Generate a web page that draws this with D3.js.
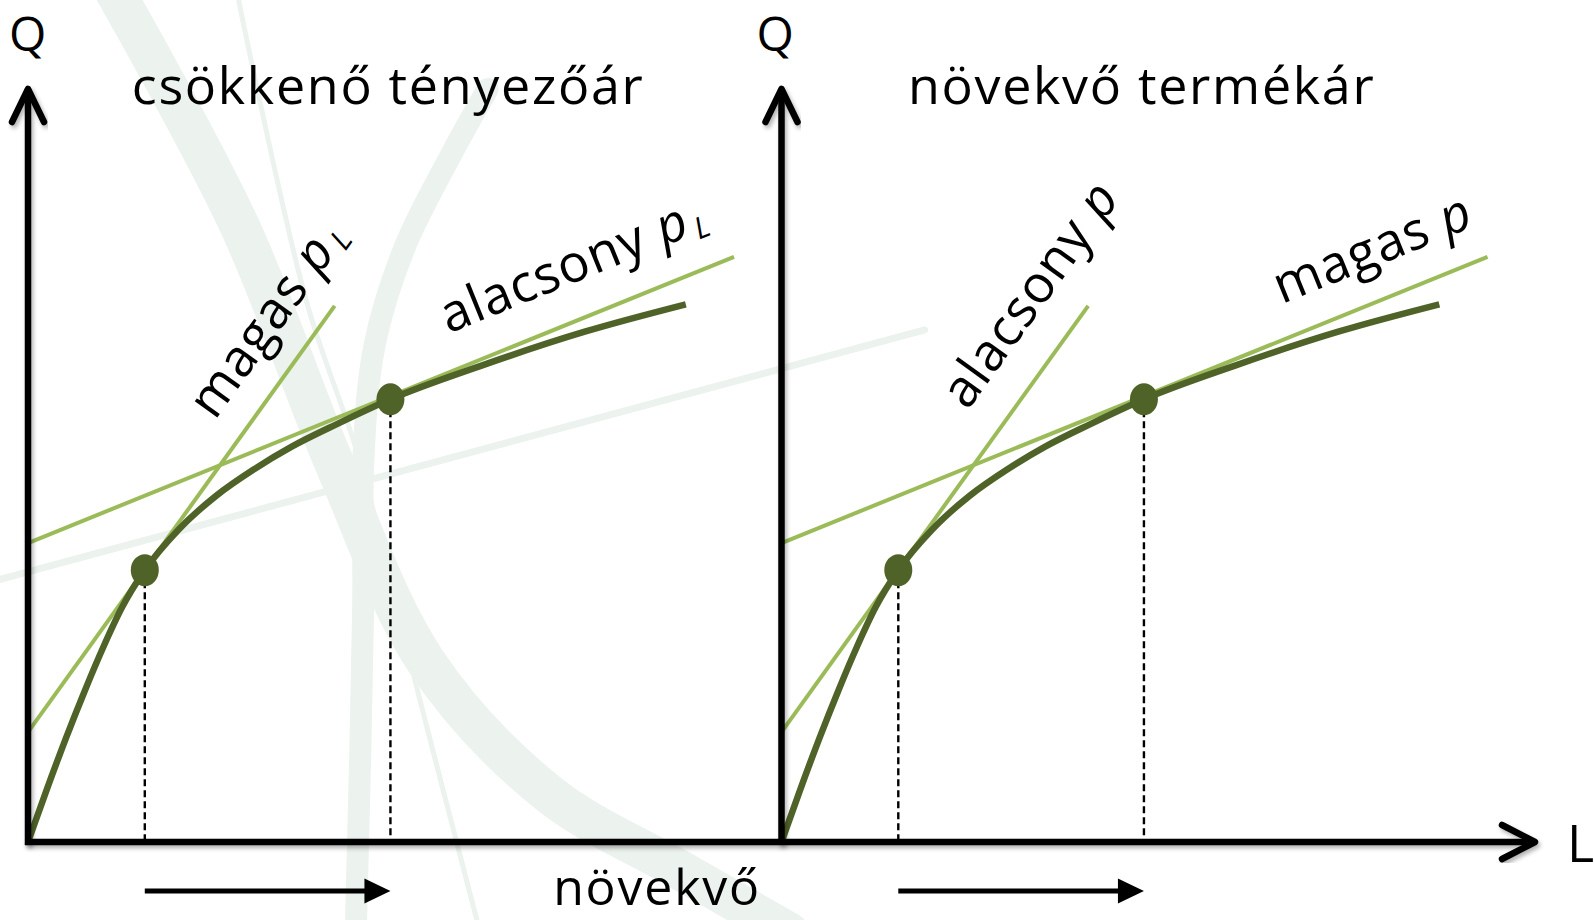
<!DOCTYPE html>
<html>
<head>
<meta charset="utf-8">
<script src="https://cdn.jsdelivr.net/npm/d3@7"></script>
<style>
  html, body { margin: 0; padding: 0; background: #fff; }
  svg { display: block; font-family: "Open Sans", "Noto Sans", sans-serif; }
</style>
</head>
<body>
<div id="chart"></div>
<script>
// production function Q(L), same shape in both panels (units on the L / Q axes)
const curveL = [0, 0.25, 0.5, 0.75, 1.0, 1.25, 1.55, 2.0, 2.5, 3.0, 3.5, 4.1, 4.81, 6.0, 7.4, 8.73];
const curveQ = [0, 0.7, 1.37, 2.0, 2.59, 3.12, 3.61, 4.15, 4.6, 4.95, 5.25, 5.55, 5.88, 6.32, 6.78, 7.14];

// tangency points (optimum) on the curve
const dotL = [1.55, 4.81];
const dotQ = [3.61, 5.88];

// price lines: steep one touches at the first dot, flat one at the second
const steepL = [0, 4.07];
const steepQ = [1.46, 7.12];
const flatL = [0, 9.37];
const flatQ = [3.97, 7.77];

// texts
const panelTitles = ['csökkenő tényezőár', 'növekvő termékár'];
const steepNames = ['magas', 'alacsony'];
const flatNames = ['alacsony', 'magas'];
const priceSubs = ['L', ''];
const bottomLabel = 'növekvő';

// faint background swooshes, [L, Q] pairs
const swooshA = [[1.15, 11.3], [2.8, 8.2], [4.07, 5.02], [5.28, 2.4], [6.9, 0.65], [8.65, -0.37], [10.1, -1.2]];
const swooshB = [[6.1, 10.0], [5.6, 9.1], [5.0, 7.9], [4.6, 6.6], [4.45, 5.07], [4.45, 3.21], [4.35, -1.2]];
const swooshC = [[-0.4, 3.48], [11.9, 6.8]];
const swooshD = [[2.77, 11.3], [3.69, 7.2], [4.4, 5.07], [5.2, 1.89], [6.0, -1.2]];

const panelStart = [0, 10];

const width = 1594, height = 920;
const dark = '#4f6228', light = '#9bbb59', swoosh = '#ecf2ed';

const x = d3.scaleLinear().domain([0, 20]).range([28, 1535]);
const y = d3.scaleLinear().domain([0, 10]).range([842, 89]);

const svg = d3.select('#chart')
  .append('svg')
  .attr('width', width)
  .attr('height', height);

svg.append('rect').attr('width', width).attr('height', height).attr('fill', '#fff');

const defs = svg.append('defs');
defs.append('filter').attr('id', 'shadow')
  .attr('x', '-10%').attr('y', '-10%').attr('width', '120%').attr('height', '120%')
  .append('feDropShadow')
  .attr('dx', 2).attr('dy', 3).attr('stdDeviation', 2)
  .attr('flood-color', '#000').attr('flood-opacity', 0.3);

const ptLine = d3.line().x(d => x(d[0])).y(d => y(d[1])).curve(d3.curveCatmullRom.alpha(0.5));

// background
const bg = svg.append('g').attr('class', 'swoosh');
[[swooshA, 40], [swooshB, 22], [swooshC, 7], [swooshD, 5]].forEach(([pts, w]) => {
  bg.append('path')
    .attr('d', ptLine(pts))
    .attr('fill', 'none')
    .attr('stroke', swoosh)
    .attr('stroke-width', w)
    .attr('stroke-linecap', 'round');
});

const curvePts = curveL.map((l, i) => [l, curveQ[i]]);

panelStart.forEach((p0, i) => {
  const g = svg.append('g').attr('class', 'panel');
  const px = l => x(p0 + l);

  const straight = (ls, qs) => d3.line()(ls.map((l, k) => [px(l), y(qs[k])]));

  // price lines
  g.append('path').attr('d', straight(steepL, steepQ))
    .attr('stroke', light).attr('stroke-width', 4).attr('fill', 'none');
  g.append('path').attr('d', straight(flatL, flatQ))
    .attr('stroke', light).attr('stroke-width', 4).attr('fill', 'none');

  // production curve
  g.append('path')
    .attr('d', d3.line().x(d => px(d[0])).y(d => y(d[1])).curve(d3.curveMonotoneX)(curvePts))
    .attr('stroke', dark).attr('stroke-width', 6.5).attr('fill', 'none');

  // dashed drop lines
  g.selectAll('.drop').data(dotL).join('line')
    .attr('class', 'drop')
    .attr('x1', d => px(d)).attr('x2', d => px(d))
    .attr('y1', (d, k) => y(dotQ[k])).attr('y2', y(0))
    .attr('stroke', '#000').attr('stroke-width', 2.4).attr('stroke-dasharray', '7,4');

  // dots
  g.selectAll('.dot').data(dotL).join('ellipse')
    .attr('class', 'dot')
    .attr('cx', d => px(d)).attr('cy', (d, k) => y(dotQ[k]))
    .attr('rx', 14).attr('ry', 16)
    .attr('fill', dark);

  // labels along the lines
  const angle = (ls, qs) => Math.atan2(y(qs[0]) - y(qs[1]), px(ls[1]) - px(ls[0])) * 180 / Math.PI;
  const label = (name, at, ang) => {
    const t = g.append('text')
      .attr('transform', `translate(${px(at[0])},${y(at[1])}) rotate(${-ang})`)
      .attr('font-size', 52).attr('letter-spacing', 1).attr('fill', '#000');
    t.append('tspan').text(name + ' ');
    t.append('tspan').attr('font-style', 'italic').text('p');
    if (priceSubs[i]) {
      t.append('tspan').attr('font-style', 'italic').attr('font-size', 30)
        .attr('dx', 4).attr('dy', 7).attr('fill', '#000').text(priceSubs[i]);
    }
  };
  const steepAt = i === 0 ? [2.48, 5.59] : [2.47, 5.72];
  const flatAt = i === 0 ? [5.58, 6.75] : [6.64, 7.14];
  label(steepNames[i], steepAt, angle(steepL, steepQ));
  label(flatNames[i], flatAt, angle(flatL, flatQ));

  // panel title
  g.append('text')
    .attr('x', px(4.78)).attr('y', 104)
    .attr('text-anchor', 'middle')
    .attr('font-size', 52).attr('letter-spacing', 1.7)
    .text(panelTitles[i]);

  // arrow under the axis showing the move
  const ay = y(0) + 49;
  const x1 = px(dotL[0]), x2 = px(dotL[1]);
  g.append('line')
    .attr('x1', x1).attr('x2', x2 - 20).attr('y1', ay).attr('y2', ay)
    .attr('stroke', '#000').attr('stroke-width', 5);
  g.append('path')
    .attr('d', `M${x2},${ay} L${x2 - 26},${ay - 12.5} L${x2 - 26},${ay + 12.5} Z`)
    .attr('fill', '#000');

  // Q axis
  const ya = g.append('g').attr('filter', 'url(#shadow)');
  ya.append('line')
    .attr('x1', px(0)).attr('x2', px(0)).attr('y1', y(0) + 3).attr('y2', y(10))
    .attr('stroke', '#000').attr('stroke-width', 6.5);
  ya.append('path')
    .attr('d', `M${px(0) - 16},${y(10) + 33} L${px(0)},${y(10)} L${px(0) + 16},${y(10) + 33}`)
    .attr('fill', 'none').attr('stroke', '#000').attr('stroke-width', 6.5)
    .attr('stroke-linecap', 'round').attr('stroke-linejoin', 'round');

  g.append('text')
    .attr('x', i === 0 ? 9 : px(0) - 25).attr('y', 51)
    .attr('font-size', 48)
    .text('Q');
});

// L axis
const xa = svg.append('g').attr('filter', 'url(#shadow)');
xa.append('line')
  .attr('x1', x(0) - 3).attr('x2', x(20)).attr('y1', y(0)).attr('y2', y(0))
  .attr('stroke', '#000').attr('stroke-width', 6.5);
xa.append('path')
  .attr('d', `M${x(20) - 33},${y(0) - 17} L${x(20)},${y(0)} L${x(20) - 33},${y(0) + 17}`)
  .attr('fill', 'none').attr('stroke', '#000').attr('stroke-width', 6.5)
  .attr('stroke-linecap', 'round').attr('stroke-linejoin', 'round');

svg.append('text')
  .attr('x', 1567).attr('y', 862)
  .attr('font-size', 52)
  .text('L');

svg.append('text')
  .attr('x', 657).attr('y', 905)
  .attr('text-anchor', 'middle')
  .attr('font-size', 50).attr('letter-spacing', 1.8)
  .text(bottomLabel);
</script>
</body>
</html>
